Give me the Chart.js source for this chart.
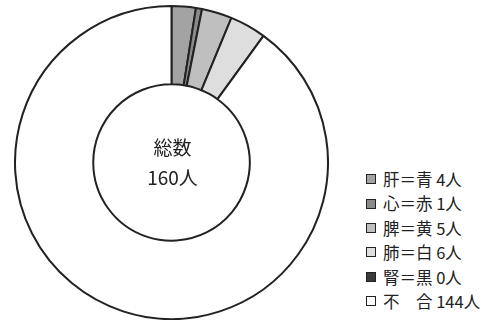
<!DOCTYPE html>
<html><head><meta charset="utf-8">
<script src="https://cdn.jsdelivr.net/npm/chart.js@4.4.0/dist/chart.umd.min.js"></script>
<style>
html,body{margin:0;padding:0;background:#fff;}
body{width:500px;height:326px;position:relative;overflow:hidden;font-family:"Noto Sans CJK JP","Noto Sans",sans-serif;}
#wrap{position:absolute;left:14px;top:5px;width:315px;height:315px;}
#legend{position:absolute;left:366px;top:167px;font-size:16.5px;color:#222;}
.row{height:24.4px;line-height:24.4px;white-space:pre;display:flex;align-items:center;}
.box{width:8px;height:8px;border:1.5px solid #222;margin-right:7px;display:inline-block;flex:none;}
</style></head><body>
<div id="wrap"><canvas id="c" width="315" height="315"></canvas></div>
<div id="legend"></div>
<script>
const labels = ["肝＝青","心＝赤","脾＝黄","肺＝白","腎＝黒","不　合"];
const values = [4,1,5,6,0,144];
const colors = ["#a3a3a3","#8a8a8a","#bfbfbf","#dedede","#3a3a3a","#ffffff"];
const centerLines = ["総数","160人"];

const centerText = {
  id:'centerText',
  afterDraw(chart){
    const ctx = chart.ctx;
    const m = chart.getDatasetMeta(0).data[0];
    ctx.save();
    ctx.fillStyle = '#222';
    ctx.font = '19px "Noto Sans CJK JP"';
    ctx.textAlign = 'center';
    ctx.textBaseline = 'middle';
    ctx.fillText(centerLines[0], m.x+1, m.y-15);
    ctx.fillText(centerLines[1], m.x+1, m.y+15);
    ctx.restore();
  }
};

new Chart(document.getElementById('c'), {
  type:'doughnut',
  data:{labels:labels, datasets:[{data:values, backgroundColor:colors, borderColor:'#222',
    borderWidth:values.map(v=>v===0?0:2), borderAlign:'center'}]},
  options:{
    responsive:false, animation:false, cutout:'50%',
    layout:{padding:0},
    plugins:{legend:{display:false}, tooltip:{enabled:false}}
  },
  plugins:[centerText]
});

const lg = document.getElementById('legend');
labels.forEach((l,i)=>{
  const r = document.createElement('div'); r.className='row';
  const b = document.createElement('span'); b.className='box'; b.style.background=colors[i];
  r.appendChild(b);
  r.appendChild(document.createTextNode(l+' '+values[i]+'人'));
  lg.appendChild(r);
});
</script>
</body></html>
